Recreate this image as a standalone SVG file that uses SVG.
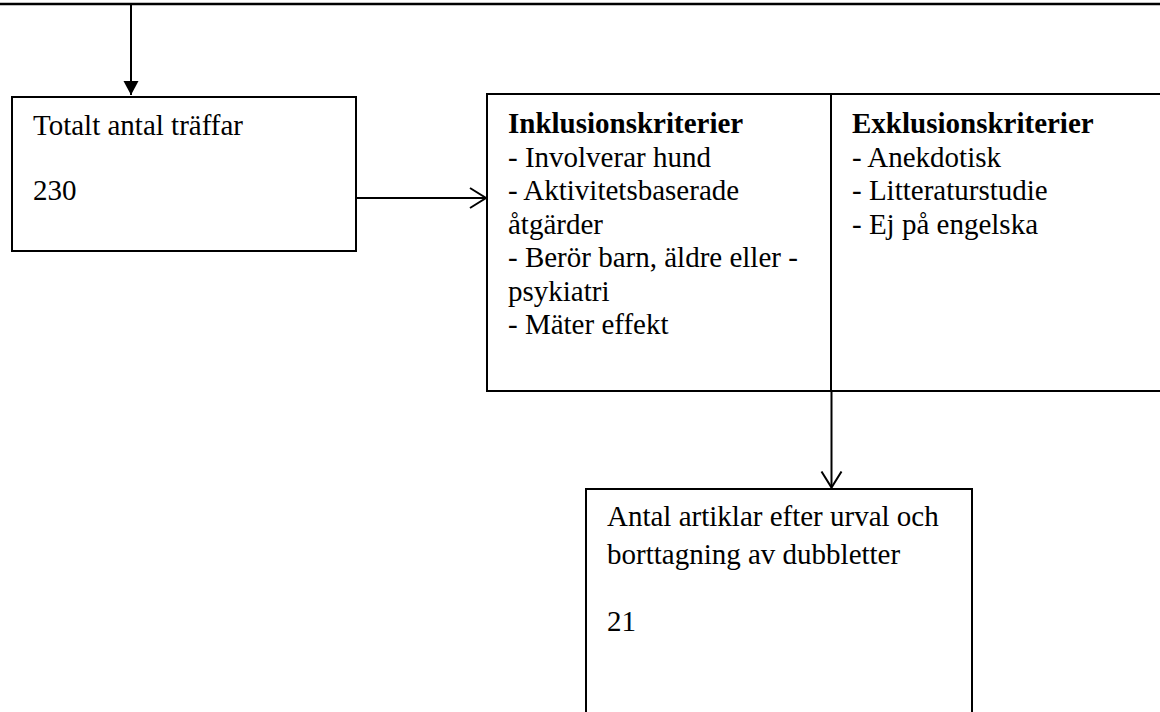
<svg xmlns="http://www.w3.org/2000/svg" width="1160" height="712" viewBox="0 0 1160 712">
<style>
.box{fill:#fff;stroke:#000;stroke-width:2}
.ln{fill:none;stroke:#000;stroke-width:2}
text{font-family:'Liberation Serif','Times New Roman',Times,serif;font-size:29px;fill:#000}
.b{font-weight:bold}
</style>
<defs>
<marker id="filled" markerWidth="16" markerHeight="16" refX="14" refY="7.5" orient="auto" markerUnits="userSpaceOnUse">
<path d="M0,0 L14,7.5 L0,15 Z" fill="#000"/>
</marker>
<marker id="open" markerWidth="24" markerHeight="24" refX="17" refY="11" orient="auto" markerUnits="userSpaceOnUse">
<path d="M1,1 L17,11 L1,21" fill="none" stroke="#000" stroke-width="2"/>
</marker>
</defs>
<rect width="1160" height="712" fill="#fff"/>
<g id="connectors">
<line class="ln" x1="0" y1="4" x2="1160" y2="4" style="stroke-width:2.5"/>
<line class="ln" x1="131" y1="5" x2="131" y2="95" marker-end="url(#filled)"/>
<line class="ln" x1="357" y1="198" x2="486" y2="198" marker-end="url(#open)"/>
<line class="ln" x1="831.5" y1="392" x2="831.5" y2="487.5" marker-end="url(#open)"/>
</g>
<g id="node-total" font-family="Liberation Serif, serif">
<rect class="box" x="12" y="97" width="344" height="154"/>
<text x="33" y="135">Totalt antal träffar</text>
<text x="33" y="200">230</text>
</g>
<g id="node-inclusion" font-family="Liberation Serif, serif">
<rect class="box" x="487" y="94" width="344" height="297"/>
<text x="508" y="133"><tspan class="b">Inklusionskriterier</tspan>
<tspan x="508" dy="33.5">- Involverar hund</tspan>
<tspan x="508" dy="33.5">- Aktivitetsbaserade</tspan>
<tspan x="508" dy="33.5">åtgärder</tspan>
<tspan x="508" dy="33.5">- Berör barn, äldre eller -</tspan>
<tspan x="508" dy="33.5">psykiatri</tspan>
<tspan x="508" dy="33.5">- Mäter effekt</tspan></text>
</g>
<g id="node-exclusion" font-family="Liberation Serif, serif">
<path class="ln" d="M1162,94 H831 V391 H1162"/>
<text x="852" y="133"><tspan class="b">Exklusionskriterier</tspan>
<tspan x="852" dy="33.5">- Anekdotisk</tspan>
<tspan x="852" dy="33.5">- Litteraturstudie</tspan>
<tspan x="852" dy="33.5">- Ej på engelska</tspan></text>
</g>
<g id="node-result" font-family="Liberation Serif, serif">
<path class="box" d="M586,714 V489 H972 V714"/>
<text x="607" y="526">Antal artiklar efter urval och</text>
<text x="607" y="563.5">borttagning av dubbletter</text>
<text x="607" y="630.5">21</text>
</g>
</svg>
